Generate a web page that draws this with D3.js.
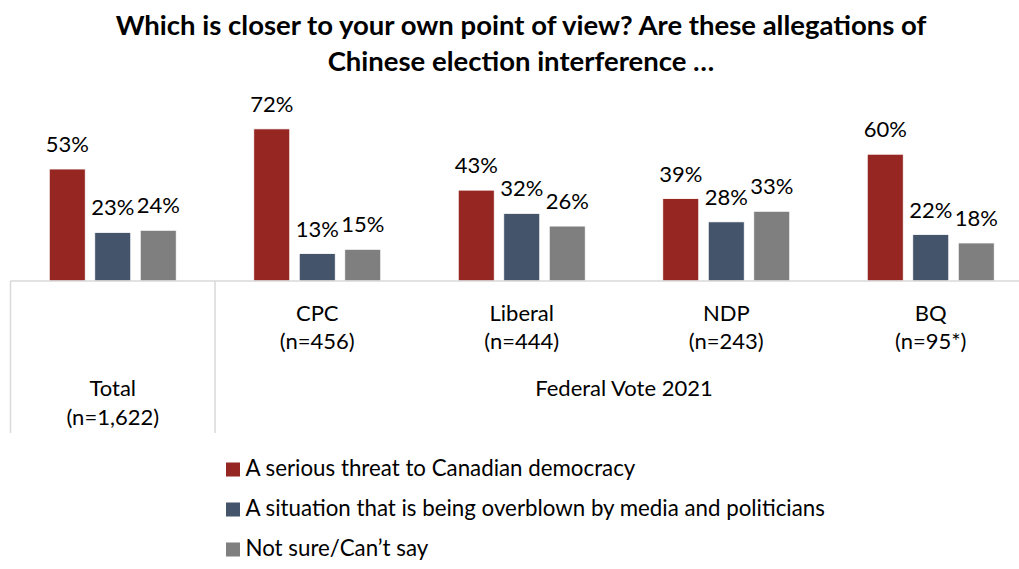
<!DOCTYPE html>
<html>
<head>
<meta charset="utf-8">
<script src="https://cdn.jsdelivr.net/npm/d3@7"></script>
<style>
  html, body { margin: 0; padding: 0; background: #fff; }
  svg { display: block; }
  text { font-family: Lato, "Open Sans", sans-serif; fill: #000; }
</style>
</head>
<body>
<svg id="chart" width="1019" height="569"></svg>
<script>
// Survey groups (first-level axis labels, two lines each)
const groups = ["Total", "CPC", "Liberal", "NDP", "BQ"];
const groupSizes = ["(n=1,622)", "(n=456)", "(n=444)", "(n=243)", "(n=95*)"];
const parentLabel = "Federal Vote 2021";
const parentMembers = ["CPC", "Liberal", "NDP", "BQ"];

// Response series
const seriesNames = [
  "A serious threat to Canadian democracy",
  "A situation that is being overblown by media and politicians",
  "Not sure/Can\u2019t say"
];
const seriesColors = ["#952621", "#44546A", "#7F7F7F"];

// Percentages per group, one array per series
const seriousThreat = [53, 72, 43, 39, 60];
const overblown     = [23, 13, 32, 28, 22];
const notSure       = [24, 15, 26, 33, 18];

const titleLines = [
  "Which is closer to your own point of view? Are these allegations of",
  "Chinese election interference \u2026"
];

const seriesValues = [seriousThreat, overblown, notSure];
const rows = groups.map((g, i) => ({
  group: g,
  size: groupSizes[i],
  values: seriesNames.map((s, k) => ({ series: s, value: seriesValues[k][i], color: seriesColors[k] }))
}));

const svg = d3.select("#chart");
const bodySize = "22px";

const baseline = 281;
const x0 = d3.scaleBand().domain(groups).range([10.5, 1033]).paddingInner(0).paddingOuter(0);
const x1 = d3.scaleBand().domain(seriesNames).range([0, x0.bandwidth()]).paddingInner(0.209).paddingOuter(0.852);
const y = d3.scaleLinear().domain([0, 100]).range([baseline, 69.7]);

// Title
svg.append("g").selectAll("text").data(titleLines).join("text")
  .attr("x", 521)
  .attr("y", (d, i) => 35 + i * 36)
  .attr("text-anchor", "middle")
  .style("font-size", "27.5px")
  .style("font-weight", "700")
  .text(d => d);

// Bars
const gGroups = svg.append("g").selectAll("g").data(rows).join("g")
  .attr("transform", d => `translate(${x0(d.group)},0)`);

gGroups.selectAll("rect").data(d => d.values).join("rect")
  .attr("x", d => x1(d.series))
  .attr("y", d => y(d.value))
  .attr("width", x1.bandwidth())
  .attr("height", d => baseline - y(d.value))
  .attr("fill", d => d.color)
  .attr("stroke", "#fff")
  .attr("stroke-width", 0.8);

gGroups.selectAll("text.val").data(d => d.values).join("text")
  .attr("class", "val")
  .attr("x", d => x1(d.series) + x1.bandwidth() / 2)
  .attr("y", d => y(d.value) - 17)
  .attr("text-anchor", "middle")
  .style("font-size", bodySize)
  .text(d => d.value + "%");

// Category axis: baseline and group separators
const axis = svg.append("g");
axis.append("line")
  .attr("x1", x0.range()[0]).attr("x2", 1019)
  .attr("y1", baseline).attr("y2", baseline)
  .attr("stroke", "#D9D9D9").attr("stroke-width", 1.5);

const dividers = [x0(groups[0]), x0(parentMembers[0]), x0.range()[1]];
axis.selectAll("line.div").data(dividers).join("line")
  .attr("class", "div")
  .attr("x1", d => d).attr("x2", d => d)
  .attr("y1", baseline).attr("y2", 433)
  .attr("stroke", "#D9D9D9").attr("stroke-width", 1.5);

// First-level labels
rows.forEach(r => {
  const top = parentMembers.includes(r.group) ? 320.5 : 396;
  const t = axis.append("text")
    .attr("text-anchor", "middle")
    .style("font-size", bodySize);
  [r.group, r.size].forEach((line, j) => {
    t.append("tspan")
      .attr("x", x0(r.group) + x0.bandwidth() / 2)
      .attr("y", top + j * 28.5)
      .text(line);
  });
});

// Second-level label over the party groups
const pStart = x0(parentMembers[0]);
const pEnd = x0(parentMembers[parentMembers.length - 1]) + x0.bandwidth();
axis.append("text")
  .attr("x", (pStart + pEnd) / 2)
  .attr("y", 396)
  .attr("text-anchor", "middle")
  .style("font-size", bodySize)
  .text(parentLabel);

// Legend
const legend = svg.append("g").attr("transform", "translate(226,0)");
const li = legend.selectAll("g").data(seriesNames).join("g")
  .attr("transform", (d, i) => `translate(0,${462.5 + i * 40})`);
li.append("rect").attr("width", 14).attr("height", 14)
  .attr("fill", (d, i) => seriesColors[i]);
li.append("text").attr("x", 19.5).attr("y", 13.5)
  .style("font-size", "22.3px")
  .text(d => d);
</script>
</body>
</html>
